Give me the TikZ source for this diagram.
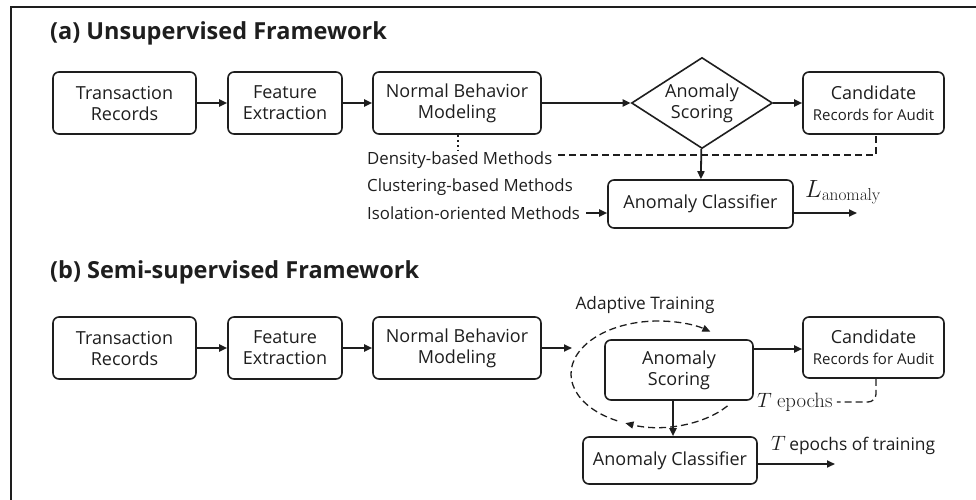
\documentclass[tikz,border=0pt]{standalone}
\usepackage[no-math]{fontspec}
\setmainfont{Open Sans}
\usetikzlibrary{arrows.meta,shapes.geometric,calc}
\definecolor{ink}{HTML}{1E1E1E}
\newcommand{\smallrec}{\fontsize{15}{17}\selectfont}
\tikzset{
  box/.style={draw=ink, line width=1.6pt, rounded corners=6pt, align=center,
    inner sep=0pt, text=ink, font=\fontsize{18}{21}\selectfont},
  dia/.style={draw=ink, line width=1.6pt, shape=diamond, aspect=1.55, align=center,
    inner sep=0pt, text=ink, font=\fontsize{18}{21}\selectfont,
    minimum width=141pt, minimum height=91pt},
  lbl/.style={text=ink, inner sep=0pt, font=\fontsize{16.8}{20}\selectfont},
  ttl/.style={text=ink, inner sep=0pt, font=\fontsize{23.5}{28}\selectfont\bfseries},
  flow/.style={draw=ink, line width=1.8pt, -{Triangle[length=8pt,width=7pt]}},
  dashln/.style={draw=ink, line width=1.3pt, dash pattern=on 7pt off 4pt},
}
\begin{document}
\begin{tikzpicture}[x=1pt,y=-1pt]
\useasboundingbox (0,0) rectangle (976,500);
% outer frame (only top and left edges fall inside the page)
\draw[ink, line width=2.2pt] (11,500) -- (11,7) -- (976,7);

% ---------------- (a) unsupervised ----------------
\node[ttl, anchor=west] (ta) at (50,33) {(a) Unsupervised Framework};
\node[box, minimum width=143pt, minimum height=62pt] (a1) at (124.5,103) {Transaction\\Records};
\node[box, minimum width=114pt, minimum height=62pt] (a2) at (285,103) {Feature\\Extraction};
\node[box, minimum width=168pt, minimum height=62pt] (a3) at (457,103) {Normal Behavior\\Modeling};
\node[dia] (a4) at (702,103) {Anomaly\\Scoring};
\node[box, minimum width=141pt, minimum height=62pt] (a5) at (873.5,103) {Candidate\\{\smallrec Records for Audit}};
\node[box, minimum width=185pt, minimum height=48pt] (a6) at (700.5,204) {Anomaly Classifier};

\node[lbl, anchor=west] (m1) at (367,160) {Density-based Methods};
\node[lbl, anchor=west] (m2) at (367,187) {Clustering-based Methods};
\node[lbl, anchor=west] (m3) at (367,213) {Isolation-oriented Methods};

\draw[flow] (a1) -- (a2);
\draw[flow] (a2) -- (a3);
\draw[flow] (a3) -- (a4);
\draw[flow] (a4) -- (a5);
\draw[flow] (a4) -- (a6);
\draw[flow] ([xshift=6pt]m3.east) -- (a6.west |- m3.east);
\coordinate (aout) at (857,213);
\draw[flow] (a6.east |- aout) -- (aout);
\node[anchor=base west, inner sep=0pt, text=ink] (la) at (805,197)
  {\fontsize{24}{28}\selectfont$L_{\mathrm{anomaly}}$};

\coordinate (dt) at (458,150);
\draw[dashln, dash pattern=on 2pt off 3pt] (a3.south -| dt) -- (dt);
\coordinate (dk) at (876,155);
\draw[dashln] ([xshift=6pt]m1.east |- dk) -- (dk) -- (a5.south -| dk);

% ---------------- (b) semi-supervised ----------------
\node[ttl, anchor=west] (tb) at (50,272) {(b) Semi-supervised Framework};
\node[box, minimum width=143pt, minimum height=62pt] (b1) at (124.5,348) {Transaction\\Records};
\node[box, minimum width=114pt, minimum height=62pt] (b2) at (285,348) {Feature\\Extraction};
\node[box, minimum width=168pt, minimum height=62pt] (b3) at (457,348) {Normal Behavior\\Modeling};
\node[box, minimum width=148pt, minimum height=60pt] (b4) at (679,370) {Anomaly\\Scoring};
\node[box, minimum width=141pt, minimum height=61pt] (b5) at (873.5,347.5) {Candidate\\{\smallrec Records for Audit}};
\node[box, minimum width=174pt, minimum height=47pt] (b6) at (670,460.5) {Anomaly Classifier};

\draw[flow] (b1) -- (b2);
\draw[flow] (b2) -- (b3);
\coordinate (loopin) at (572,348);
\draw[flow] (b3.east |- loopin) -- (loopin);
\coordinate (sc) at (803,349);
\draw[flow] (b4.east |- sc) -- (b5.west |- sc);
\coordinate (dn) at (673,0);
\draw[flow] (b4.south -| dn) -- (b6.north -| dn);

% adaptive-training loop around the scoring box
\coordinate (lc) at (658,374);
\draw[dashln, -{Triangle[length=8pt,width=7pt]}]
  ($(lc)+(37:87 and 53)$) arc[start angle=37, end angle=112, x radius=87, y radius=53];
\draw[dashln, -{Triangle[length=8pt,width=7pt]}]
  ($(lc)+(118:87 and 53)$) arc[start angle=118, end angle=307, x radius=87, y radius=53];
\node[lbl, font=\fontsize{17.2}{20}\selectfont] (at) at (645,305) {Adaptive Training};

\node[anchor=base west, inner sep=0pt, text=ink] (te) at (757,407)
  {\fontsize{19.5}{23}\selectfont$T\ \mathrm{epochs}$};
\coordinate (tk) at (876,402);
\draw[dashln, rounded corners=8pt] (b5.south -| tk) |- ([xshift=4pt]te.east |- tk);

\coordinate (bout) at (835,464);
\draw[flow] (b6.east |- bout) -- (bout);
\node[anchor=base west, inner sep=0pt, text=ink] (tt) at (771,450)
  {\fontsize{20}{24}\selectfont$T$\,\fontsize{17.4}{20}\selectfont epochs of training};
\end{tikzpicture}
\end{document}
